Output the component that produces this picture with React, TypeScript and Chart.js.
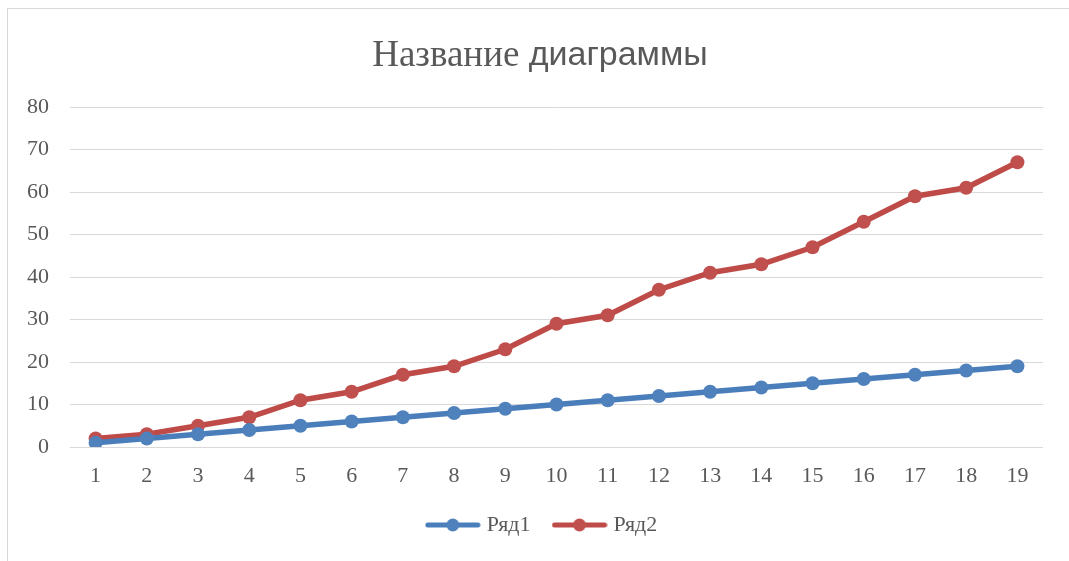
import React, { useEffect, useRef } from "react";
import { Chart, registerables } from "chart.js";

Chart.register(...registerables);

const categories = ["1","2","3","4","5","6","7","8","9","10","11","12","13","14","15","16","17","18","19"];
const series1 = [1,2,3,4,5,6,7,8,9,10,11,12,13,14,15,16,17,18,19];
const series2 = [2,3,5,7,11,13,17,19,23,29,31,37,41,43,47,53,59,61,67];
const seriesNames = ["Ряд1", "Ряд2"];
const titleSerif = "Название ";
const titleSans = "диаграммы";

const W = 1071;
const H = 552;
const TEXT = "#595959";
const SERIF = "'Liberation Serif', 'Times New Roman', serif";
const SANS = "'Liberation Sans', Arial, sans-serif";

function legendImage(line: string, fill: string): HTMLCanvasElement {
  const c = document.createElement("canvas");
  c.width = 56;
  c.height = 16;
  const ctx = c.getContext("2d")!;
  ctx.strokeStyle = line;
  ctx.lineWidth = 5;
  ctx.lineCap = "round";
  ctx.beginPath();
  ctx.moveTo(3, 8);
  ctx.lineTo(53, 8);
  ctx.stroke();
  ctx.fillStyle = fill;
  ctx.beginPath();
  ctx.arc(28, 8, 6.5, 0, Math.PI * 2);
  ctx.fill();
  return c;
}

const titlePlugin = {
  id: "mixedTitle",
  afterDraw(chart: any) {
    const ctx = chart.ctx as CanvasRenderingContext2D;
    ctx.save();
    const f1 = `37px ${SERIF}`;
    const f2 = `34px ${SANS}`;
    ctx.font = f1;
    const w1 = ctx.measureText(titleSerif).width;
    ctx.font = f2;
    const w2 = ctx.measureText(titleSans).width;
    const cx = 532;
    const y = 47;
    let x = cx - (w1 + w2) / 2;
    ctx.fillStyle = TEXT;
    ctx.textBaseline = "middle";
    ctx.textAlign = "left";
    ctx.font = f1;
    ctx.fillText(titleSerif, x, y);
    ctx.font = f2;
    ctx.fillText(titleSans, x + w1, y);
    ctx.restore();
  },
};

export default function App() {
  const ref = useRef<HTMLCanvasElement>(null);
  useEffect(() => {
    if (!ref.current) return;
    const colors = [
      { line: "#4A7EBB", fill: "#4F81BD" },
      { line: "#BE4B48", fill: "#C0504D" },
    ];
    const imgs = colors.map((c) => legendImage(c.line, c.fill));
    const chart = new Chart(ref.current, {
      type: "line",
      data: {
        labels: categories,
        datasets: [series1, series2].map((d, i) => ({
          label: seriesNames[i],
          data: d,
          borderColor: colors[i].line,
          backgroundColor: colors[i].fill,
          pointBackgroundColor: colors[i].fill,
          pointBorderColor: colors[i].fill,
          pointRadius: 7,
          pointBorderWidth: 0,
          borderWidth: 5.5,
          tension: 0,
          fill: false,
        })),
      },
      options: {
        responsive: false,
        animation: false,
        layout: { padding: { left: 0, right: 0, top: 98, bottom: 15 } },
        plugins: {
          title: { display: false },
          tooltip: { enabled: false },
          legend: {
            display: true,
            position: "bottom",
            labels: {
              usePointStyle: true,
              pointStyleWidth: 46,
              padding: 26,
              color: TEXT,
              font: { family: SERIF, size: 22 },
              generateLabels: (ch: any) => {
                const items = Chart.defaults.plugins.legend.labels.generateLabels(ch);
                return items.map((it: any, i: number) => ({ ...it, pointStyle: imgs[i] }));
              },
            },
          },
        },
        scales: {
          x: {
            type: "category",
            offset: true,
            grid: { display: false, drawTicks: false },
            border: { display: false },
            ticks: { color: TEXT, font: { family: SERIF, size: 22 }, padding: 16, maxRotation: 0, autoSkip: false },
            afterFit: (s: any) => { s.height = 41; },
          },
          y: {
            min: 0,
            max: 80,
            grid: { color: "#d9d9d9", lineWidth: 1, drawTicks: false },
            border: { display: false },
            ticks: { stepSize: 10, color: TEXT, font: { family: SERIF, size: 22 }, padding: 21 },
            afterFit: (s: any) => { s.width = 62; },
          },
          yRight: {
            position: "right",
            display: true,
            grid: { display: false, drawTicks: false },
            border: { display: false },
            ticks: { display: false },
            afterFit: (s: any) => { s.width = 36; },
          },
        },
      },
      plugins: [titlePlugin],
    } as any);
    return () => chart.destroy();
  }, []);

  return (
    <div
      style={{
        position: "fixed",
        left: 7,
        top: 8,
        width: 1200,
        height: 700,
        borderLeft: "1px solid #d9d9d9",
        borderTop: "1px solid #d9d9d9",
        background: "#fff",
      }}
    >
      <canvas ref={ref} width={W} height={H} style={{ display: "block", width: W, height: H }} />
    </div>
  );
}
